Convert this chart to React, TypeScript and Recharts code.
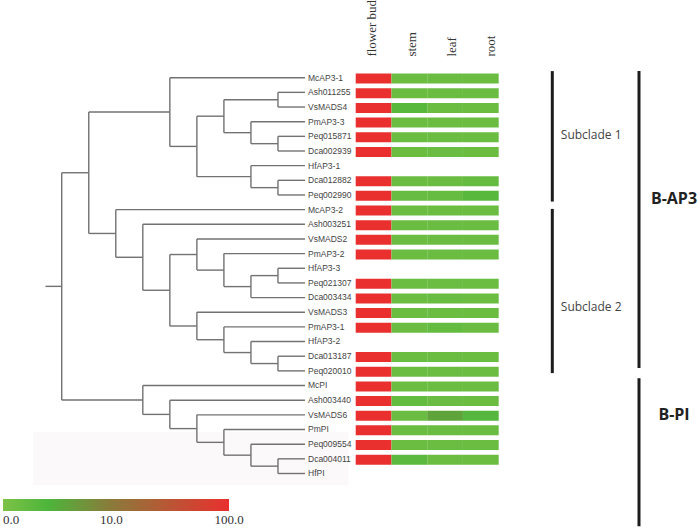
import React from 'react';
import {
  Bar,
  BarChart,
  Cell,
  ReferenceArea,
  ReferenceLine,
  Scatter,
  ScatterChart,
  XAxis,
  YAxis,
} from 'recharts';

const W = 700;
const H = 528;

// leaves of the tree, top to bottom
const genes = [
  'McAP3-1', 'Ash011255', 'VsMADS4', 'PmAP3-3', 'Peq015871', 'Dca002939', 'HfAP3-1',
  'Dca012882', 'Peq002990', 'McAP3-2', 'Ash003251', 'VsMADS2', 'PmAP3-2', 'HfAP3-3',
  'Peq021307', 'Dca003434', 'VsMADS3', 'PmAP3-1', 'HfAP3-2', 'Dca013187', 'Peq020010',
  'McPI', 'Ash003440', 'VsMADS6', 'PmPI', 'Peq009554', 'Dca004011', 'HfPI',
];

// internal nodes (children listed before parents): id, depth, child a, child b
const nodes: [string, number, string, string][] = [
  ['a1', 8, 'Ash011255', 'VsMADS4'],
  ['a2', 8, 'Peq015871', 'Dca002939'],
  ['a3', 7, 'PmAP3-3', 'a2'],
  ['a4', 6, 'a1', 'a3'],
  ['a5', 8, 'Dca012882', 'Peq002990'],
  ['a6', 7, 'HfAP3-1', 'a5'],
  ['a7', 5, 'a4', 'a6'],
  ['sub1', 4, 'McAP3-1', 'a7'],
  ['b1', 8, 'HfAP3-3', 'Peq021307'],
  ['b2', 7, 'b1', 'Dca003434'],
  ['b3', 6, 'PmAP3-2', 'b2'],
  ['b4', 5, 'VsMADS2', 'b3'],
  ['b5', 8, 'Dca013187', 'Peq020010'],
  ['b6', 7, 'HfAP3-2', 'b5'],
  ['b7', 6, 'PmAP3-1', 'b6'],
  ['b8', 5, 'VsMADS3', 'b7'],
  ['b9', 4, 'b4', 'b8'],
  ['b10', 3, 'Ash003251', 'b9'],
  ['sub2', 2, 'McAP3-2', 'b10'],
  ['ap3', 1, 'sub1', 'sub2'],
  ['c1', 8, 'Dca004011', 'HfPI'],
  ['c2', 7, 'Peq009554', 'c1'],
  ['c3', 6, 'PmPI', 'c2'],
  ['c4', 5, 'VsMADS6', 'c3'],
  ['c5', 4, 'Ash003440', 'c4'],
  ['pi', 3, 'McPI', 'c5'],
  ['root', 0, 'ap3', 'pi'],
];

const leafDepth = 9;
const stubDepth = -0.6;

// expression per tissue (null = no data)
const tissues = ['flower bud', 'stem', 'leaf', 'root'];
const flowerBud = [100, 100, 100, 100, 100, 100, null, 100, 100, 100, 100, 100, 100, null, 100, 100, 100, 100, null, 100, 100, 100, 100, 100, 100, 100, 100, null];
const stem = [1.5, 1.5, 3.2, 1.5, 1.5, 1.5, null, 1.5, 1.8, 1.5, 1.5, 1.5, 1.5, null, 1.5, 1.5, 1.5, 1.5, null, 1.5, 1.5, 1.5, 2.2, 1.5, 1.5, 1.5, 3.0, null];
const leaf = [1.5, 1.5, 1.5, 1.5, 1.5, 1.6, null, 1.5, 2.0, 1.5, 1.6, 1.5, 1.5, null, 1.5, 1.8, 1.5, 2.2, null, 1.5, 1.5, 1.5, 1.6, 5.8, 1.5, 1.5, 1.5, null];
const root = [1.5, 1.5, 1.5, 1.5, 1.5, 1.5, null, 2.0, 3.2, 1.5, 1.5, 1.5, 1.5, null, 1.5, 1.5, 1.5, 1.5, null, 1.5, 1.5, 1.5, 1.5, 3.5, 1.5, 1.5, 1.5, null];

const cladeNames = ['Subclade 1', 'Subclade 2', 'B-AP3', 'B-PI'];
const cladeCol = [0, 0, 1, 1];
const cladeFrom = [-0.45, 8.95, -0.45, 20.5];
const cladeTo = [8.45, 20.15, 19.8, 30.6];
const cladeLabelAt = [3.9, 15.6, 8.2, 23.0];

const legendValues = [0, 10, 100];
const legendLabels = ['0.0', '10.0', '100.0'];

const stops: [number, string][] = [
  [0, '#7cc246'],
  [0.2, '#4db53b'],
  [0.48, '#8b7a3b'],
  [1, '#e9302e'],
];

const scalePos = (v: number) =>
  v <= 10 ? (0.48 * v) / 10 : 0.48 + 0.52 * Math.log10(v / 10);

function heatColor(v: number) {
  const p = Math.min(1, Math.max(0, scalePos(v)));
  let i = 0;
  while (i < stops.length - 2 && p > stops[i + 1][0]) i++;
  const [p0, c0] = stops[i];
  const [p1, c1] = stops[i + 1];
  const t = (p - p0) / (p1 - p0);
  const ch = (c: string, k: number) => parseInt(c.slice(1 + k * 2, 3 + k * 2), 16);
  const mix = [0, 1, 2].map((k) => Math.round(ch(c0, k) + (ch(c1, k) - ch(c0, k)) * t));
  return `rgb(${mix.join(',')})`;
}

// tree layout
const pos: Record<string, { x: number; y: number }> = {};
genes.forEach((g, i) => (pos[g] = { x: leafDepth, y: i }));
const branches: { x1: number; y1: number; x2: number; y2: number }[] = [];
nodes.forEach(([id, d, a, b]) => {
  const pa = pos[a];
  const pb = pos[b];
  pos[id] = { x: d, y: (pa.y + pb.y) / 2 };
  branches.push({ x1: d, y1: pa.y, x2: d, y2: pb.y });
  branches.push({ x1: d, y1: pa.y, x2: pa.x, y2: pa.y });
  branches.push({ x1: d, y1: pb.y, x2: pb.x, y2: pb.y });
});
branches.push({ x1: stubDepth, y1: pos.root.y, x2: 0, y2: pos.root.y });

const leafPoints = genes.map((g, i) => ({ x: leafDepth, y: i, name: g }));

const heatRows = genes.map((g, i) => ({
  name: g,
  fb: flowerBud[i],
  st: stem[i],
  lf: leaf[i],
  rt: root[i],
}));
const tissueKeys = ['fb', 'st', 'lf', 'rt'] as const;

const cladeLabels = cladeNames.map((n, i) => ({ x: cladeCol[i], y: cladeLabelAt[i], name: n, col: cladeCol[i] }));

const layer: React.CSSProperties = { position: 'absolute', left: 0, top: 0 };

const HeaderTick = (props: any) => {
  const { x, y, index } = props;
  return (
    <text
      x={x}
      y={y}
      transform={`rotate(-90 ${x} ${y})`}
      fontSize={13}
      fontFamily="Liberation Serif, Times New Roman, serif"
      fill="#333"
    >
      {tissues[index]}
    </text>
  );
};

const LegendTick = (props: any) => {
  const { x, y, index } = props;
  return (
    <text
      x={x}
      y={y}
      dy="0.71em"
      textAnchor={index === 0 ? 'start' : 'middle'}
      fontSize={13}
      fontFamily="Liberation Serif, Times New Roman, serif"
      fill="#333"
    >
      {legendLabels[index]}
    </text>
  );
};

export default function App() {
  return (
    <div style={{ position: 'fixed', left: 0, top: 0, width: W, height: H, background: '#fff' }}>
      {/* tree */}
      <div style={layer}>
        <ScatterChart width={W} height={H} margin={{ top: 77.7, bottom: 54.5, left: 45.5, right: 395 }}>
          <XAxis type="number" dataKey="x" domain={[stubDepth, leafDepth]} hide />
          <YAxis type="number" dataKey="y" domain={[0, genes.length - 1]} reversed hide />
          <ReferenceArea x1={-1.06} x2={10.6} y1={24.17} y2={27.8} fill="#fcf9fa" fillOpacity={1} stroke="none" ifOverflow="visible" />
          {branches.map((b, i) => (
            <ReferenceLine
              key={i}
              segment={[{ x: b.x1, y: b.y1 }, { x: b.x2, y: b.y2 }]}
              stroke="#727272"
              strokeWidth={1.4}
              ifOverflow="visible"
            />
          ))}
          <Scatter
            data={leafPoints}
            isAnimationActive={false}
            shape={(p: any) => (
              <text
                x={p.cx + 3}
                y={p.cy}
                dy="0.34em"
                fontSize={8.5}
                fontFamily="Liberation Sans, Arial, sans-serif"
                fill="#444"
              >
                {p.payload.name}
              </text>
            )}
          />
        </ScatterChart>
      </div>

      {/* heatmap */}
      <div style={layer}>
        <BarChart
          layout="vertical"
          width={W}
          height={H}
          data={heatRows}
          margin={{ top: 21.6, bottom: 46, left: 355.7, right: 201.3 }}
        >
          <XAxis type="number" domain={[0, 4]} hide />
          <XAxis
            xAxisId="head"
            type="number"
            orientation="top"
            domain={[0, 3.58]}
            ticks={[0.5, 1.5, 2.5, 3.5]}
            interval={0}
            height={50}
            axisLine={false}
            tickLine={false}
            tickSize={0}
            tickMargin={15}
            tick={HeaderTick}
            allowDataOverflow
          />
          <YAxis type="category" dataKey="name" hide />
          {tissueKeys.map((k) => (
            <Bar
              key={k}
              dataKey={(r: any) => (r[k] == null ? null : 1)}
              stackId="h"
              barSize={10}
              isAnimationActive={false}
            >
              {heatRows.map((r, i) => (
                <Cell key={i} fill={r[k] == null ? 'none' : heatColor(r[k] as number)} />
              ))}
            </Bar>
          ))}
        </BarChart>
      </div>

      {/* clade bars */}
      <div style={layer}>
        <ScatterChart width={W} height={H} margin={{ top: 77.7, bottom: 54.5, left: 552.3, right: 61 }}>
          <XAxis type="number" dataKey="x" domain={[0, 1]} hide />
          <YAxis type="number" dataKey="y" domain={[0, genes.length - 1]} reversed hide />
          {cladeNames.map((n, i) => (
            <ReferenceLine
              key={n}
              segment={[{ x: cladeCol[i], y: cladeFrom[i] }, { x: cladeCol[i], y: cladeTo[i] }]}
              stroke="#1c1c1c"
              strokeWidth={3}
              ifOverflow="visible"
            />
          ))}
          <Scatter
            data={cladeLabels}
            isAnimationActive={false}
            shape={(p: any) =>
              p.payload.col === 0 ? (
                <text x={p.cx + 8.5} y={p.cy} dy="0.35em" fontSize={12} fontFamily="Open Sans, sans-serif" fill="#444">
                  {p.payload.name}
                </text>
              ) : (
                <text
                  x={p.cx + 35}
                  y={p.cy}
                  dy="0.35em"
                  textAnchor="middle"
                  fontSize={16}
                  fontWeight="bold"
                  fontFamily="Open Sans, sans-serif"
                  fill="#222"
                >
                  {p.payload.name}
                </text>
              )
            }
          />
        </ScatterChart>
      </div>

      {/* colour scale */}
      <div style={layer}>
        <BarChart
          layout="vertical"
          width={W}
          height={H}
          data={[{ name: 'scale', v: 1 }]}
          margin={{ top: 499, bottom: 0, left: 3, right: 471 }}
          barCategoryGap={0}
        >
          <defs>
            <linearGradient id="heatGrad" x1="0" y1="0" x2="1" y2="0">
              {stops.map(([o, c]) => (
                <stop key={o} offset={o} stopColor={c} />
              ))}
            </linearGradient>
          </defs>
          <XAxis
            type="number"
            domain={[0, 1]}
            ticks={legendValues.map(scalePos)}
            interval={0}
            height={17}
            axisLine={false}
            tickLine={false}
            tickSize={0}
            tickMargin={4}
            tick={LegendTick}
          />
          <YAxis type="category" dataKey="name" hide />
          <Bar dataKey="v" fill="url(#heatGrad)" isAnimationActive={false} />
        </BarChart>
      </div>
    </div>
  );
}
